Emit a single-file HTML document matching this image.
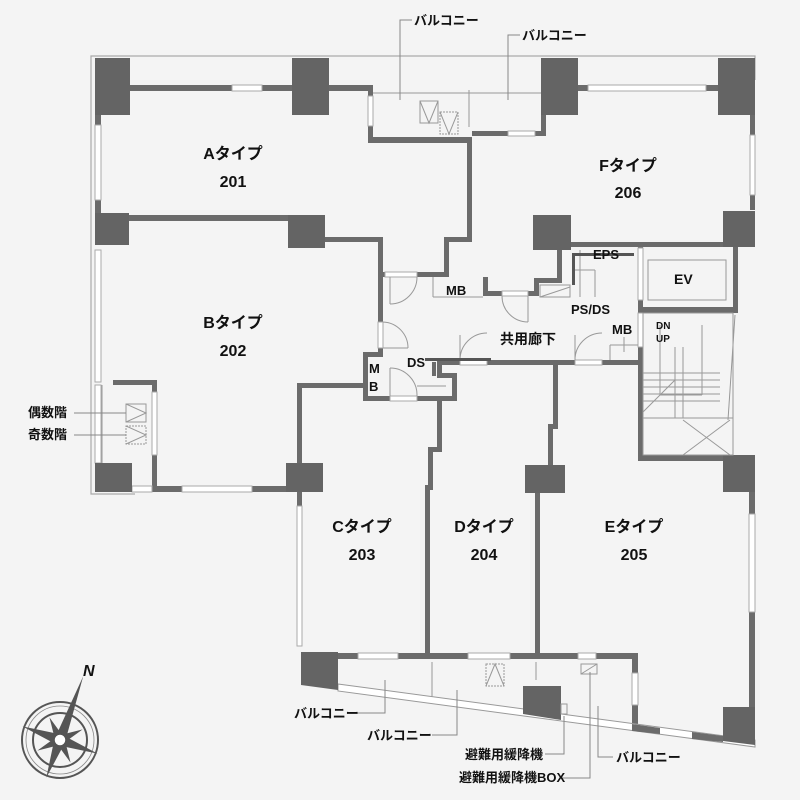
<!DOCTYPE html>
<html><head><meta charset="utf-8"><style>
html,body{margin:0;padding:0;background:#f4f4f4}
svg{display:block}
text{font-family:"Liberation Sans","Noto Sans CJK JP",sans-serif;fill:#111}
.r{font-size:16px;text-anchor:middle;font-weight:bold}
.s{font-size:13px;font-weight:bold}
</style></head><body>
<svg width="800" height="800" viewBox="0 0 800 800">
<rect width="800" height="800" fill="#f4f4f4"/>
<g fill="none" stroke="#aaa" stroke-width="1.2">
<polyline points="755,80 755,56 91,56 91,494 135,494"/>
<line x1="373" y1="93" x2="541" y2="93"/>
</g>
<g fill="#6b6b6b">
<rect x="129" y="85" width="163" height="6"/>
<rect x="329" y="85" width="44" height="6"/>
<rect x="368" y="85" width="5" height="57"/>
<rect x="368" y="137" width="104" height="6"/>
<rect x="467" y="137" width="5" height="105"/>
<rect x="472" y="131" width="74" height="5"/>
<rect x="541" y="110" width="5" height="26"/>
<rect x="578" y="85" width="140" height="6"/>
<rect x="750" y="110" width="5" height="100"/>
<rect x="95" y="110" width="6" height="105"/>
<rect x="129" y="215" width="160" height="6"/>
<rect x="325" y="237" width="58" height="5"/>
<rect x="378" y="237" width="5" height="115"/>
<rect x="444" y="237" width="28" height="5"/>
<rect x="444" y="237" width="5" height="40"/>
<rect x="383" y="272" width="66" height="5"/>
<rect x="483" y="277" width="5" height="18"/>
<rect x="483" y="291" width="55" height="5"/>
<rect x="534" y="278" width="5" height="18"/>
<rect x="534" y="278" width="28" height="5"/>
<rect x="557" y="245" width="5" height="38"/>
<rect x="571" y="242" width="167" height="5"/>
<rect x="638" y="242" width="5" height="70"/>
<rect x="733" y="242" width="5" height="70"/>
<rect x="638" y="307" width="100" height="6"/>
<rect x="638" y="347" width="5" height="113"/>
<rect x="638" y="455" width="90" height="6"/>
<rect x="440" y="360" width="198" height="5"/>
<rect x="363" y="352" width="5" height="48"/>
<rect x="363" y="352" width="20" height="5"/>
<rect x="363" y="396" width="94" height="5"/>
<rect x="452" y="373" width="5" height="28"/>
<rect x="437" y="373" width="20" height="5"/>
<rect x="437" y="360" width="5" height="18"/>
<rect x="432" y="362" width="4" height="14"/>
<rect x="297" y="383" width="66" height="5"/>
<rect x="297" y="383" width="5" height="82"/>
<rect x="297" y="492" width="5" height="14"/>
<rect x="437" y="400" width="5" height="52"/>
<rect x="428" y="447" width="14" height="5"/>
<rect x="428" y="447" width="5" height="40"/>
<rect x="425" y="485" width="8" height="5"/>
<rect x="425" y="485" width="5" height="172"/>
<rect x="553" y="363" width="5" height="66"/>
<rect x="548" y="424" width="10" height="5"/>
<rect x="548" y="424" width="5" height="42"/>
<rect x="535" y="492" width="5" height="165"/>
<rect x="113" y="380" width="44" height="5"/>
<rect x="152" y="380" width="5" height="12"/>
<rect x="152" y="455" width="5" height="37"/>
<rect x="152" y="486" width="30" height="6"/>
<rect x="252" y="486" width="36" height="6"/>
<rect x="749" y="492" width="6" height="22"/>
<rect x="749" y="612" width="6" height="96"/>
<rect x="338" y="653" width="20" height="6"/>
<rect x="398" y="653" width="70" height="6"/>
<rect x="510" y="653" width="68" height="6"/>
<rect x="596" y="653" width="42" height="6"/>
<rect x="632" y="653" width="6" height="20"/>
<rect x="632" y="705" width="6" height="25"/>
</g>
<g fill="#fff" stroke="#aaa" stroke-width="1">
<rect x="232" y="85" width="30" height="6"/>
<rect x="368" y="96" width="5" height="30"/>
<rect x="508" y="131" width="27" height="5"/>
<rect x="588" y="85" width="118" height="6"/>
<rect x="750" y="135" width="5" height="60"/>
<rect x="95" y="125" width="6" height="75"/>
<rect x="95" y="250" width="6" height="132"/>
<rect x="95" y="385" width="6" height="78"/>
<rect x="152" y="392" width="5" height="63"/>
<rect x="182" y="486" width="70" height="6"/>
<rect x="132" y="486" width="20" height="6"/>
<rect x="385" y="272" width="32" height="5"/>
<rect x="378" y="322" width="5" height="26"/>
<rect x="502" y="291" width="26" height="5"/>
<rect x="460" y="360" width="27" height="5"/>
<rect x="575" y="360" width="27" height="5"/>
<rect x="390" y="396" width="27" height="5"/>
<rect x="638" y="313" width="5" height="34"/>
<rect x="638" y="248" width="5" height="52"/>
<rect x="297" y="506" width="5" height="140"/>
<rect x="749" y="514" width="6" height="98"/>
<rect x="358" y="653" width="40" height="6"/>
<rect x="468" y="653" width="42" height="6"/>
<rect x="578" y="653" width="18" height="6"/>
<rect x="632" y="673" width="6" height="32"/>
</g>
<polygon points="338,684 755,740 755,747 338,691" fill="#fff" stroke="#999" stroke-width="1"/>
<polygon points="632,724 660,728 660,734 632,731" fill="#6b6b6b"/>
<polygon points="692,732 723,736 723,742 692,739" fill="#6b6b6b"/>
<g fill="#646464">
<rect x="95" y="58" width="35" height="57"/>
<rect x="292" y="58" width="37" height="57"/>
<rect x="541" y="58" width="37" height="57"/>
<rect x="718" y="58" width="37" height="57"/>
<rect x="95" y="213" width="34" height="32"/>
<rect x="288" y="215" width="37" height="33"/>
<rect x="533" y="215" width="38" height="35"/>
<rect x="723" y="211" width="32" height="36"/>
<rect x="95" y="463" width="37" height="29"/>
<rect x="286" y="463" width="37" height="29"/>
<rect x="525" y="465" width="40" height="28"/>
<rect x="723" y="455" width="32" height="37"/>
<polygon points="301,652 338,652 338,690 301,685"/>
<polygon points="523,686 561,686 561,720 523,714"/>
<polygon points="723,707 755,707 755,745 723,741"/>
</g>
<g fill="none" stroke="#999" stroke-width="1">
<rect x="420" y="101" width="18" height="22"/><polyline points="420,101 429,123 438,101"/>
<rect x="440" y="112" width="18" height="22" stroke-dasharray="2,1"/><polyline points="440,112 449,134 458,112"/>
<line x1="469" y1="90" x2="469" y2="127"/>
<rect x="126" y="404" width="20" height="18"/><polyline points="126,404 146,413 126,422"/>
<rect x="126" y="426" width="20" height="18" stroke-dasharray="2,1"/><polyline points="126,426 146,435 126,444"/>
<line x1="102" y1="385" x2="102" y2="463"/>
<line x1="433" y1="277" x2="433" y2="297"/><line x1="433" y1="297" x2="483" y2="297"/>
<rect x="540" y="285" width="30" height="12"/><line x1="540" y1="297" x2="570" y2="287"/>
<line x1="580" y1="250" x2="580" y2="297"/>
<line x1="574" y1="270" x2="595" y2="270"/><line x1="595" y1="270" x2="595" y2="297"/>
<line x1="390" y1="277" x2="390" y2="304"/><path d="M390,304 A27,27 0 0 0 417,277"/>
<path d="M383,322 A26,26 0 0 1 408,348"/><line x1="383" y1="348" x2="408" y2="348"/>
<path d="M502,296 A26,26 0 0 0 528,322"/><line x1="528" y1="296" x2="528" y2="322"/>
<line x1="460" y1="360" x2="460" y2="335"/><path d="M460,360 A27,27 0 0 1 487,333"/>
<line x1="575" y1="360" x2="575" y2="335"/><path d="M575,360 A27,27 0 0 1 602,333"/>
<line x1="610" y1="345" x2="638" y2="345"/><line x1="610" y1="345" x2="610" y2="360"/><line x1="624" y1="337" x2="624" y2="352"/>
<line x1="390" y1="368" x2="390" y2="396"/><path d="M390,368 A27,27 0 0 1 417,396"/>
<line x1="417" y1="386" x2="446" y2="386"/>
<rect x="648" y="260" width="78" height="40"/>
<rect x="643" y="313" width="90" height="142"/>
<line x1="643" y1="418" x2="733" y2="418"/>
<line x1="643" y1="373" x2="720" y2="373"/><line x1="643" y1="380" x2="720" y2="380"/>
<line x1="643" y1="387" x2="720" y2="387"/><line x1="643" y1="394" x2="720" y2="394"/><line x1="643" y1="401" x2="720" y2="401"/>
<line x1="675" y1="347" x2="675" y2="418"/><line x1="683" y1="347" x2="683" y2="418"/>
<line x1="660" y1="325" x2="660" y2="395"/><line x1="660" y1="395" x2="702" y2="395"/><line x1="702" y1="325" x2="702" y2="395"/>
<line x1="643" y1="412" x2="675" y2="380"/>
<line x1="683" y1="420" x2="730" y2="455"/><line x1="730" y1="420" x2="683" y2="455"/>
<line x1="735" y1="315" x2="728" y2="420"/>
<rect x="486" y="664" width="18" height="22" stroke-dasharray="2,1"/><polyline points="486,686 495,664 504,686"/>
<line x1="432" y1="662" x2="432" y2="697"/><line x1="536" y1="662" x2="536" y2="680"/>
<rect x="581" y="664" width="16" height="10"/><line x1="581" y1="674" x2="597" y2="664"/>
<rect x="561" y="704" width="6" height="10"/>
</g>
<g fill="#555">
<rect x="574" y="253" width="60" height="3"/>
<rect x="572" y="253" width="3" height="32"/>
<rect x="425" y="358" width="66" height="3"/>
</g>
<g fill="none" stroke="#888" stroke-width="1">
<polyline points="412,20 400,20 400,100"/>
<polyline points="520,35 508,35 508,100"/>
<line x1="74" y1="413" x2="126" y2="413"/>
<line x1="74" y1="435" x2="126" y2="435"/>
<polyline points="356,713 385,713 385,680"/>
<polyline points="432,735 457,735 457,690"/>
<polyline points="545,754 564,754 564,716"/>
<polyline points="560,778 590,778 590,672"/>
<polyline points="613,757 598,757 598,706"/>
</g>
<g transform="translate(60,740)">
<circle r="38" fill="none" stroke="#555" stroke-width="2"/>
<circle r="27" fill="none" stroke="#555" stroke-width="2"/>
<circle r="34" fill="none" stroke="#888" stroke-width="0.8"/>
<g transform="rotate(20)" fill="#555">
<polygon points="0,-68 5,-5 0,0 -5,-5"/>
<polygon points="0,40 5,5 0,0 -5,5"/>
<polygon points="-40,0 -5,-5 0,0 -5,5"/>
<polygon points="40,0 5,-5 0,0 5,5"/>
<g transform="rotate(45)"><polygon points="0,-25 4,-4 -4,-4"/><polygon points="0,25 4,4 -4,4"/><polygon points="-25,0 -4,-4 -4,4"/><polygon points="25,0 4,-4 4,4"/></g>
</g>
<circle r="6" fill="#fff" stroke="#555" stroke-width="1.5"/>
</g>
<text x="83" y="676" style="font-size:16px;font-style:italic;font-weight:bold">N</text>
<text class="r" x="233" y="159">Aタイプ</text><text class="r" x="233" y="187">201</text>
<text class="r" x="628" y="171">Fタイプ</text><text class="r" x="628" y="198">206</text>
<text class="r" x="233" y="328">Bタイプ</text><text class="r" x="233" y="356">202</text>
<text class="r" x="362" y="532">Cタイプ</text><text class="r" x="362" y="560">203</text>
<text class="r" x="484" y="532">Dタイプ</text><text class="r" x="484" y="560">204</text>
<text class="r" x="634" y="532">Eタイプ</text><text class="r" x="634" y="560">205</text>
<text class="s" x="414" y="25">バルコニー</text>
<text class="s" x="522" y="40">バルコニー</text>
<text class="s" x="593" y="259">EPS</text>
<text class="s" x="674" y="284" style="font-size:14px">EV</text>
<text class="s" x="446" y="295">MB</text>
<text class="s" x="571" y="314">PS/DS</text>
<text class="s" x="612" y="334">MB</text>
<text x="500" y="344" style="font-size:14px;font-weight:bold">共用廊下</text>
<text class="s" x="407" y="367">DS</text>
<text class="s" x="369" y="373">M</text><text class="s" x="369" y="391">B</text>
<text x="656" y="329" style="font-size:10px;font-weight:bold">DN</text>
<text x="656" y="342" style="font-size:10px;font-weight:bold">UP</text>
<text class="s" x="28" y="417">偶数階</text>
<text class="s" x="28" y="439">奇数階</text>
<text class="s" x="294" y="718">バルコニー</text>
<text class="s" x="367" y="740">バルコニー</text>
<text class="s" x="465" y="759">避難用緩降機</text>
<text class="s" x="459" y="782">避難用緩降機BOX</text>
<text class="s" x="616" y="762">バルコニー</text>
</svg>
</body></html>
